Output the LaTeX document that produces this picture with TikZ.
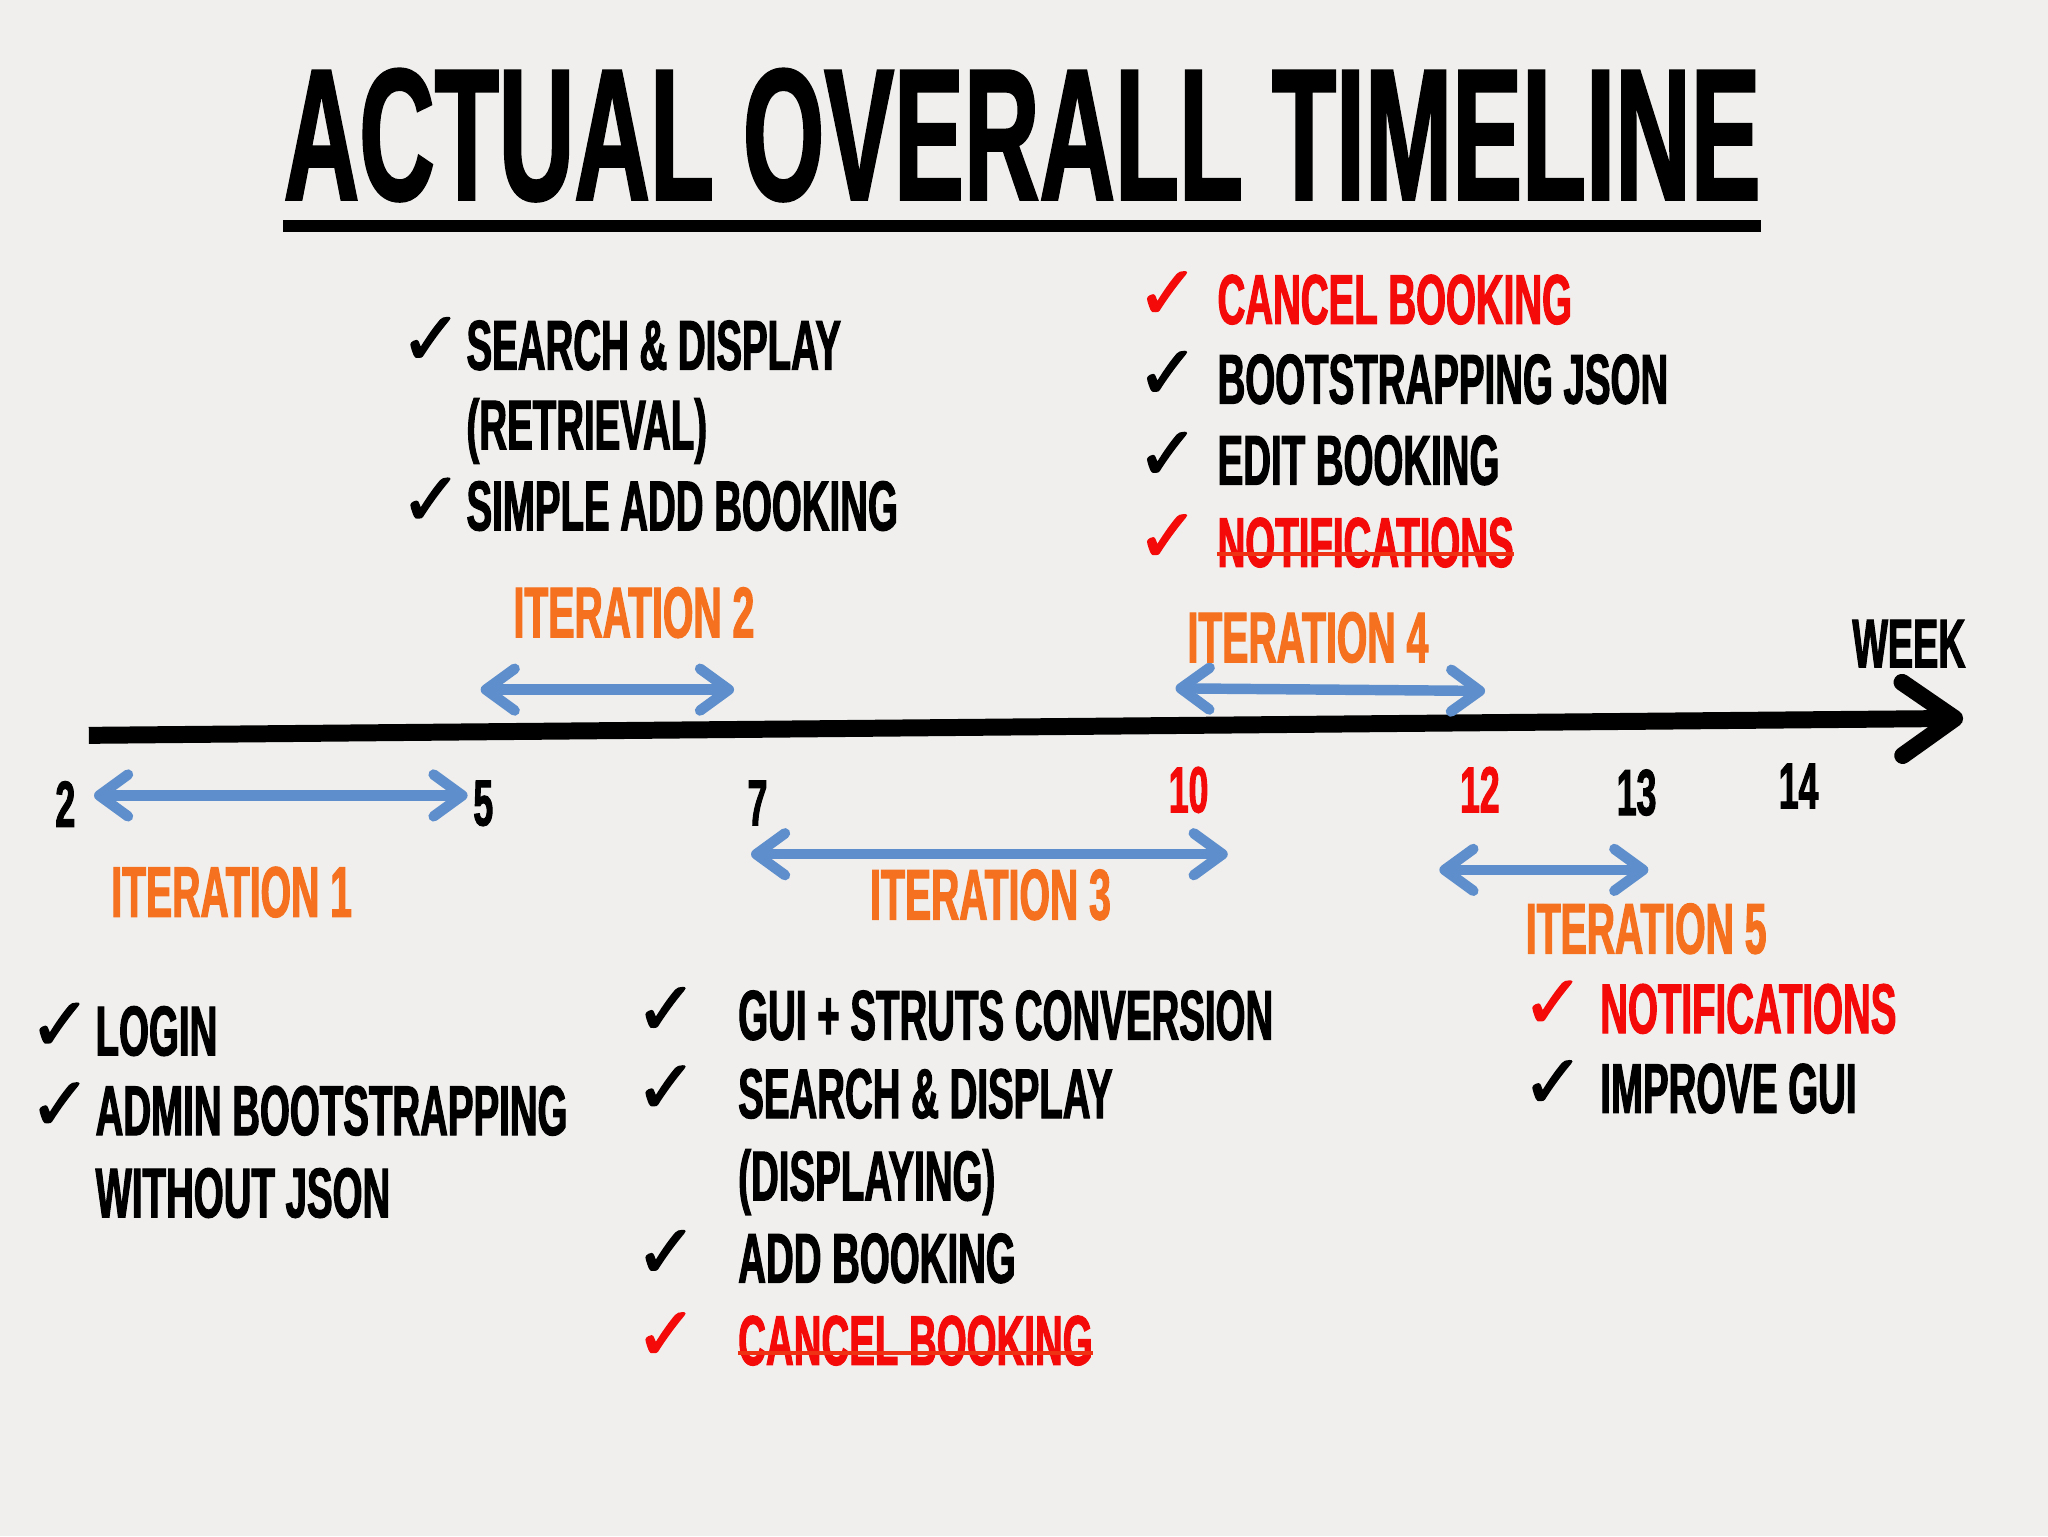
\documentclass[tikz,border=0pt]{standalone}
\usepackage{fontspec}
\usetikzlibrary{arrows.meta,calc}
\newfontfamily\condfont{Liberation Sans}[FakeStretch=0.545,FakeBold=1.5]
\newfontfamily\titlefont{Liberation Sans}[FakeStretch=0.5565,FakeBold=1.2]
\newfontfamily\symfont{DejaVu Sans}[FakeBold=2]
\definecolor{bgcol}{RGB}{240,239,237}
\definecolor{arrowblue}{RGB}{94,142,204}
\definecolor{iterorange}{RGB}{246,113,31}
\definecolor{donered}{RGB}{245,10,10}
\definecolor{strikered}{RGB}{240,50,20}
\tikzset{
  txtbase/.style={inner sep=0pt, anchor=base west},
  titletxt/.style={txtbase, font=\fontsize{144}{144}\titlefont\bfseries},
  listtxt/.style={txtbase, font=\fontsize{54}{54}\condfont\bfseries},
  redtxt/.style={listtxt, text=donered},
  itertxt/.style={txtbase, font=\fontsize{55}{55}\condfont\bfseries, text=iterorange},
  weektxt/.style={inner sep=0pt, anchor=base, font=\fontsize{50}{50}\condfont\bfseries},
  redweek/.style={weektxt, text=donered},
  unittxt/.style={txtbase, font=\fontsize{53}{53}\condfont\bfseries},
  chk/.style={inner sep=0pt, anchor=base west, font=\fontsize{57}{57}\symfont},
  redchk/.style={chk, text=donered},
  iterarrow/.style={draw=arrowblue, line width=8pt,
    arrows={Straight Barb[length=22pt,width=32pt,round]-Straight Barb[length=22pt,width=32pt,round]}},
  axisline/.style={draw=black, line width=13pt,
    arrows={-Straight Barb[length=40pt,width=56pt,round]}},
  strikeline/.style={draw=strikered, line width=3pt},
  titleline/.style={draw=black, line width=9pt}
}
\begin{document}
\begin{tikzpicture}[x=1pt,y=-1pt]
\fill[bgcol] (0,0) rectangle (1568,1176);
\useasboundingbox (0,0) rectangle (1568,1176);

% title
\node[titletxt] (title) at (217,153) {ACTUAL OVERALL TIMELINE};
\draw[titleline] ($(title.base west)+(0,20)$) -- ($(title.base east)+(0,20)$);

% axis
\coordinate (axL) at (68,563);
\coordinate (axR) at (1503,550);
\draw[axisline] (axL) -- (axR);
\node[unittxt] (week) at (1418,511) {WEEK};

% week numbers
\node[weektxt] (w2) at (50,633) {2};
\node[weektxt] (w5) at (370,632) {5};
\node[weektxt] (w7) at (580,632) {7};
\node[redweek] (w10) at (910,622) {10};
\node[redweek] (w12) at (1133,622) {12};
\node[weektxt] (w13) at (1253,624) {13};
\node[weektxt] (w14) at (1377,619) {14};

% iteration arrows
\coordinate (a1l) at (72,609);  \coordinate (a1r) at (358,609);
\coordinate (a2l) at (368,528); \coordinate (a2r) at (562,528);
\coordinate (a3l) at (575,654); \coordinate (a3r) at (940,654);
\coordinate (a4l) at (900,527); \coordinate (a4r) at (1137,529);
\coordinate (a5l) at (1102,666); \coordinate (a5r) at (1262,666);
\draw[iterarrow] (a1l) -- (a1r);
\draw[iterarrow] (a2l) -- (a2r);
\draw[iterarrow] (a3l) -- (a3r);
\draw[iterarrow] (a4l) -- (a4r);
\draw[iterarrow] (a5l) -- (a5r);

% iteration labels
\node[itertxt] (it1) at (85,702) {ITERATION 1};
\node[itertxt] (it2) at (393,488) {ITERATION 2};
\node[itertxt] (it3) at (666,704) {ITERATION 3};
\node[itertxt] (it4) at (909,507) {ITERATION 4};
\node[itertxt] (it5) at (1168,730) {ITERATION 5};

% iteration 1 list
\node[chk] (c1a) at (22,804) {✓};
\node[listtxt] (l1a) at (73,808) {LOGIN};
\node[chk] (c1b) at (22,865) {✓};
\node[listtxt] (l1b) at (73,869) {ADMIN BOOTSTRAPPING};
\node[listtxt] (l1c) at (73,932) {WITHOUT JSON};

% iteration 2 list
\node[chk] (c2a) at (306,279) {✓};
\node[listtxt] (l2a) at (357,283) {SEARCH \& DISPLAY};
\node[listtxt] (l2b) at (357,344) {(RETRIEVAL)};
\node[chk] (c2c) at (306,402) {✓};
\node[listtxt] (l2c) at (357,406) {SIMPLE ADD BOOKING};

% iteration 3 list
\node[chk] (c3a) at (486,792) {✓};
\node[listtxt] (l3a) at (565,796) {GUI + STRUTS CONVERSION};
\node[chk] (c3b) at (486,852) {✓};
\node[listtxt] (l3b) at (565,856) {SEARCH \& DISPLAY};
\node[listtxt] (l3c) at (565,919) {(DISPLAYING)};
\node[chk] (c3d) at (486,978) {✓};
\node[listtxt] (l3d) at (565,982) {ADD BOOKING};
\node[redchk] (c3e) at (486,1041) {✓};
\node[redtxt] (l3e) at (565,1045) {CANCEL BOOKING};
\draw[strikeline] ($(l3e.base west)+(0,-9)$) -- ($(l3e.base east)+(0,-9)$);

% iteration 4 list
\node[redchk] (c4a) at (870,244) {✓};
\node[redtxt] (l4a) at (932,248) {CANCEL BOOKING};
\node[chk] (c4b) at (870,305) {✓};
\node[listtxt] (l4b) at (932,309) {BOOTSTRAPPING JSON};
\node[chk] (c4c) at (870,367) {✓};
\node[listtxt] (l4c) at (932,371) {EDIT BOOKING};
\node[redchk] (c4d) at (870,430) {✓};
\node[redtxt] (l4d) at (932,434) {NOTIFICATIONS};
\draw[strikeline] ($(l4d.base west)+(0,-10)$) -- ($(l4d.base east)+(0,-10)$);

% iteration 5 list
\node[redchk] (c5a) at (1165,787) {✓};
\node[redtxt] (l5a) at (1225,791) {NOTIFICATIONS};
\node[chk] (c5b) at (1165,848) {✓};
\node[listtxt] (l5b) at (1225,852) {IMPROVE GUI};
\end{tikzpicture}
\end{document}
